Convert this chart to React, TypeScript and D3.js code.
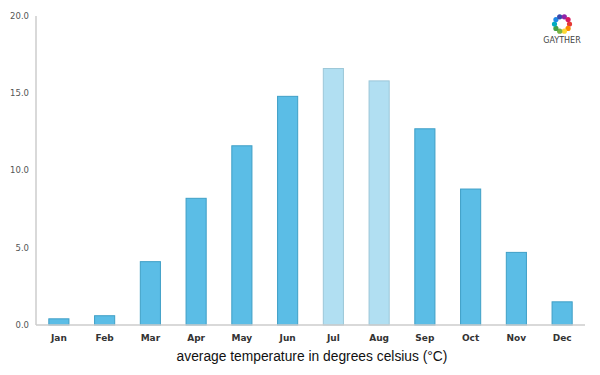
import React from "react";
import * as d3 from "d3";

const months = ["Jan","Feb","Mar","Apr","May","Jun","Jul","Aug","Sep","Oct","Nov","Dec"];
const temps = [0.4, 0.6, 4.1, 8.2, 11.6, 14.8, 16.6, 15.8, 12.7, 8.8, 4.7, 1.5];
const highlight = ["Jul", "Aug"];
const yTicks = [0, 5, 10, 15, 20];
const logoColors = ["#e53935","#fb8c00","#fdd835","#7cb342","#43a047","#00acc1","#1e88e5","#3949ab","#8e24aa","#d81b60"];

export default function App() {
  const W = 600, H = 375;
  const left = 36, right = 585, top = 16, bottom = 325;
  const x = d3.scaleBand<string>().domain(months).range([left, right]).paddingInner(0.56).paddingOuter(0.28);
  const y = d3.scaleLinear().domain([0, 20]).range([bottom, top]);
  const font = "'DejaVu Sans', sans-serif";
  return (
    <svg width={W} height={H} style={{ position: "absolute", left: 0, top: 0, background: "#fff" }}>
      {months.map((m, i) => {
        const hl = highlight.includes(m);
        return (
          <rect key={m} x={x(m)} y={y(temps[i])} width={x.bandwidth()} height={y(0) - y(temps[i])}
            fill={hl ? "#b1dff2" : "#5bbde6"} stroke={hl ? "#9cc7d8" : "#3f9fc6"} strokeWidth={1} />
        );
      })}
      <line x1={left} x2={left} y1={top} y2={bottom} stroke="#cccccc" strokeWidth={1.5} />
      <line x1={left} x2={right} y1={bottom} y2={bottom} stroke="#cccccc" strokeWidth={1.5} />
      {yTicks.map(t => (
        <text key={t} x={left - 7} y={y(t)} dy="0.35em" textAnchor="end" fontSize={8.5} fill="#555" fontFamily={font}>{t.toFixed(1)}</text>
      ))}
      {months.map(m => (
        <text key={m} x={(x(m) ?? 0) + x.bandwidth() / 2} y={341} textAnchor="middle" fontSize={9} fontWeight="bold" fill="#333" fontFamily={font}>{m}</text>
      ))}
      <text x={312} y={361} textAnchor="middle" fontSize={13.8} fill="#111" fontFamily={"'Liberation Sans', Arial, sans-serif"}>average temperature in degrees celsius (°C)</text>
      <g transform="translate(562,24)">
        {logoColors.map((c, i) => {
          const a = (i / logoColors.length) * Math.PI * 2;
          return <circle key={i} cx={Math.cos(a) * 7.5} cy={Math.sin(a) * 7.5} r={2.6} fill={c} />;
        })}
        <text x={0} y={19} textAnchor="middle" fontSize={8} fill="#444" fontFamily={font}>GAYTHER</text>
      </g>
    </svg>
  );
}
